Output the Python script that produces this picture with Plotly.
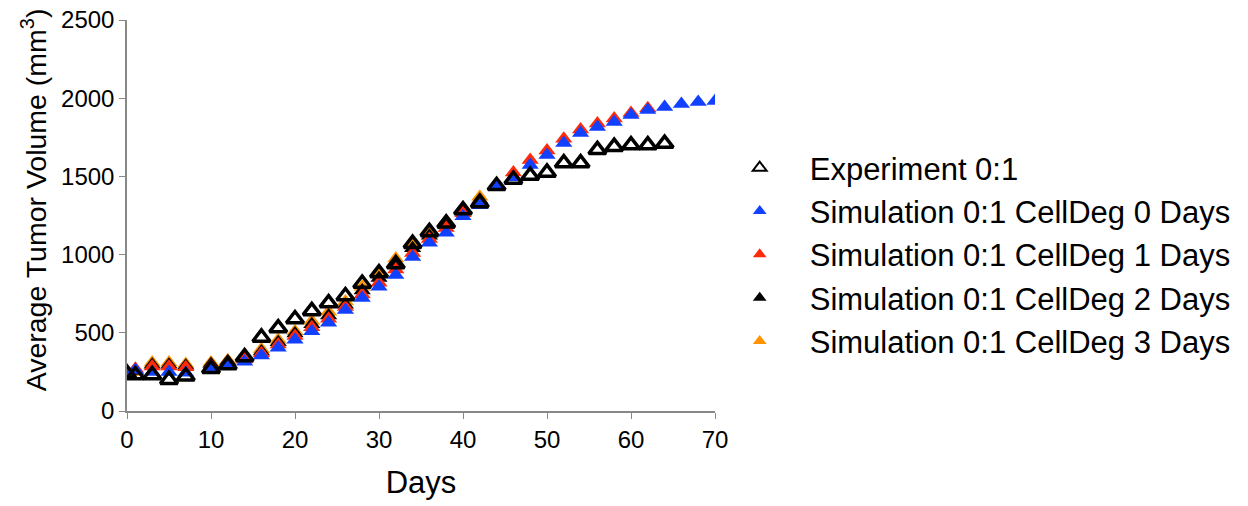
import plotly.graph_objects as go

# ---- data ----
exp_days = [0, 1, 3, 5, 7, 10, 12, 14, 16, 18, 20, 22, 24, 26, 28, 30, 32, 34, 36, 38, 40,
            42, 44, 46, 48, 50, 52, 54, 56, 58, 60, 62, 64]
exp_vol = [240, 230, 230, 200, 222, 270, 294, 345, 470, 530, 588, 640, 690, 735, 815, 882, 940,
           1070, 1145, 1200, 1285, 1330, 1440, 1480, 1505, 1525, 1585, 1585, 1670, 1690, 1700,
           1700, 1710]

sim0_days = exp_days + [66, 68, 70]
sim0_vol = [240, 262, 250, 250, 245, 275, 295, 315, 355, 405, 455, 510, 565, 645, 722, 795, 870,
            985, 1075, 1140, 1245, 1315, 1430, 1495, 1573, 1637, 1713, 1777, 1816, 1848, 1893,
            1925, 1944, 1963, 1976, 1982]

sim1_days = exp_days[:-1]
sim1_vol = [245, 270, 285, 285, 280, 290, 310, 330, 370, 425, 480, 535, 590, 665, 745, 820, 905,
            1010, 1100, 1170, 1265, 1345, 1450, 1525, 1605, 1665, 1740, 1800, 1838, 1870, 1905,
            1935]

sim2_days = exp_days[:22]
sim2_vol = [240, 255, 295, 295, 290, 300, 318, 340, 380, 440, 495, 555, 610, 680, 770, 850, 935,
            1040, 1120, 1190, 1280, 1350]

sim3_days = exp_days[:22]
sim3_vol = [240, 250, 310, 310, 300, 310, 325, 350, 395, 455, 510, 575, 635, 700, 795, 880, 975,
            1070, 1150, 1215, 1295, 1370]

x_ticks = [0, 10, 20, 30, 40, 50, 60, 70]
y_ticks = [0, 500, 1000, 1500, 2000, 2500]

FONT = "Liberation Sans, Arial, Helvetica, sans-serif"

fig = go.Figure()

sims = [
    ("Simulation 0:1 CellDeg 3 Days", sim3_days, sim3_vol, "#ff9400", 5),
    ("Simulation 0:1 CellDeg 2 Days", sim2_days, sim2_vol, "#000000", 4),
    ("Simulation 0:1 CellDeg 1 Days", sim1_days, sim1_vol, "#ff2a0a", 3),
    ("Simulation 0:1 CellDeg 0 Days", sim0_days, sim0_vol, "#1240ff", 2),
]
for name, xd, yd, col, rank in sims:
    fig.add_trace(go.Scatter(
        x=xd, y=yd, mode="markers", name=name, legendrank=rank,
        marker=dict(symbol="triangle-up", size=15, color=col, line=dict(width=0)),
    ))

fig.add_trace(go.Scatter(
    x=exp_days, y=exp_vol, mode="markers", name="Experiment 0:1", legendrank=1,
    marker=dict(symbol="triangle-up-open", size=15, color="#000000", line=dict(width=3.5, color="#000000")),
))

fig.update_layout(
    width=1248, height=506,
    margin=dict(l=119, r=541, t=12, b=103, autoexpand=False),
    paper_bgcolor="white", plot_bgcolor="white",
    font=dict(family=FONT, color="#000000"),
    showlegend=True,
    legend=dict(x=0.991, y=0.40, xanchor="left", yanchor="middle",
                font=dict(size=31, family=FONT), itemsizing="constant", itemwidth=90,
                tracegroupgap=0, bgcolor="rgba(0,0,0,0)"),
    xaxis=dict(range=[0, 70], tickmode="array", tickvals=x_ticks, automargin=False,
               showgrid=False, zeroline=False, showline=True, linecolor="#888888", linewidth=1.5,
               ticks="outside", ticklen=6, tickcolor="#888888", ticklabeloverflow="allow",
               tickfont=dict(size=24, family=FONT),
               title=dict(text="Days", font=dict(size=31, family=FONT), standoff=20)),
    yaxis=dict(range=[0, 2500], tickmode="array", tickvals=y_ticks, automargin=False,
               showgrid=False, zeroline=False, showline=True, linecolor="#888888", linewidth=1.5,
               ticks="outside", ticklen=6, tickcolor="#888888", ticklabeloverflow="allow",
               tickfont=dict(size=24, family=FONT)),
    annotations=[dict(text="Average Tumor Volume (mm<sup>3</sup>)", textangle=-90,
                      xref="paper", yref="paper", x=-0.158, y=0.539,
                      xanchor="center", yanchor="middle", showarrow=False,
                      font=dict(size=28.5, family=FONT))],
)

fig.write_html("out.html")
